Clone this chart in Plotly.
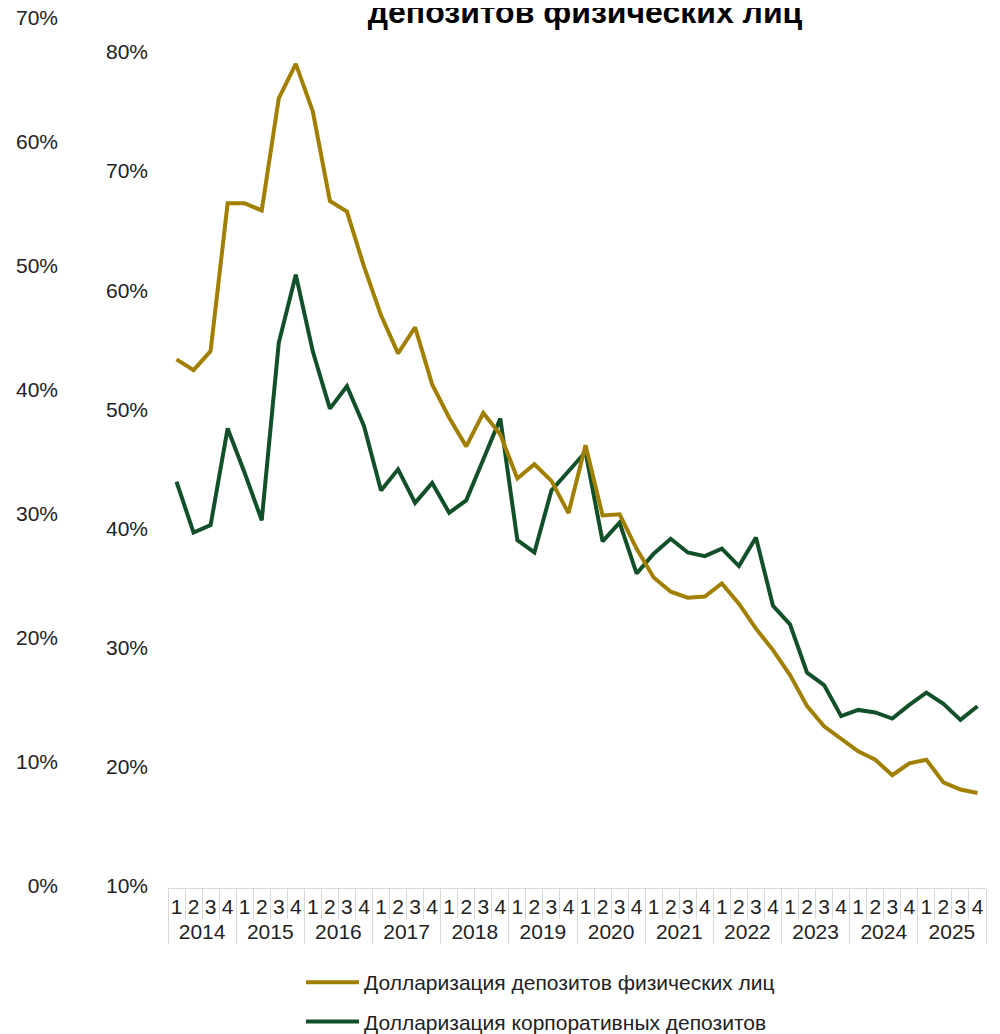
import plotly.graph_objects as go

years = [str(y) for y in range(2014, 2026)]
quarters = ["1", "2", "3", "4"]

# Долларизация депозитов физических лиц (шкала 10–80%)
household = [
    54.2, 53.3, 54.9, 67.3, 67.3, 66.7, 76.1, 79.0,
    75.0, 67.5, 66.6, 62.0, 57.9, 54.7, 56.9, 52.1,
    49.3, 46.9, 49.7, 47.9, 44.2, 45.4, 44.0, 41.3,
    47.0, 41.1, 41.2, 38.3, 35.9, 34.7, 34.2, 34.3,
    35.4, 33.7, 31.6, 29.8, 27.7, 25.1, 23.4, 22.4,
    21.3, 20.6, 19.3, 20.3, 20.6, 18.7, 18.1, 17.8,
]

# Долларизация корпоративных депозитов (внешняя шкала 0–70%)
corporate = [
    32.6, 28.5, 29.1, 36.9, 33.3, 29.5, 43.8, 49.3,
    43.1, 38.5, 40.3, 37.1, 31.9, 33.6, 30.9, 32.5,
    30.1, 31.1, 34.4, 37.7, 27.9, 26.9, 31.9, 33.4,
    35.0, 27.8, 29.3, 25.2, 26.8, 28.0, 26.9, 26.6,
    27.2, 25.8, 28.1, 22.6, 21.1, 17.2, 16.2, 13.7,
    14.2, 14.0, 13.5, 14.6, 15.6, 14.7, 13.4, 14.5,
]

outer_ticks = list(range(0, 80, 10))
inner_ticks = list(range(10, 90, 10))

x_years = [y for y in years for q in quarters]
x_quarters = [q for y in years for q in quarters]

GOLD = "#A17F00"
GREEN = "#12502A"
FONT = "Liberation Sans, Arial, sans-serif"
TXT = "#222222"

# layout in figure pixels (the page body adds an 8px offset)
W, H = 1000, 1034
pad_top = 2
top = 10 - pad_top
zero_y = 878
shift = 2  # category axis line sits just below the zero line
bottom = H - (zero_y + shift)
plot_h = H - top - bottom
right = 22
paper_w = W - right

outer_px = 868 / 70  # px per 1% on the outer 0-70% scale
inner_px = 834 / 70  # px per 1% on the inner 10-80% scale

fig = go.Figure()

fig.add_trace(
    go.Scatter(
        x=[x_years, x_quarters],
        y=household,
        mode="lines",
        name="Долларизация депозитов физических лиц",
        line=dict(color=GOLD, width=4),
        yaxis="y2",
        legendgroup="a",
    )
)

fig.add_trace(
    go.Scatter(
        x=[x_years, x_quarters],
        y=corporate,
        mode="lines",
        name="Долларизация корпоративных депозитов",
        line=dict(color=GREEN, width=4),
        yaxis="y",
        legendgroup="b",
    )
)

fig.update_layout(
    width=W,
    height=H,
    paper_bgcolor="white",
    plot_bgcolor="rgba(0,0,0,0)",
    font=dict(family=FONT, size=21, color=TXT),
    title=dict(
        text="<b>депозитов физических лиц</b>",
        font=dict(family=FONT, size=32, color="#000000"),
        x=577 / paper_w,
        xanchor="center",
        xref="paper",
        y=1 - 4 / H,
        yref="container",
        yanchor="middle",
    ),
    margin=dict(l=0, r=right, t=top, b=bottom, autoexpand=False),
    showlegend=True,
    legend=dict(
        x=293 / paper_w,
        xanchor="left",
        y=-(954 - zero_y - shift) / plot_h,
        yanchor="top",
        orientation="v",
        itemwidth=53,
        tracegroupgap=9,
        font=dict(family=FONT, size=21, color=TXT),
        bgcolor="rgba(0,0,0,0)",
    ),
    xaxis=dict(
        type="multicategory",
        domain=[160 / paper_w, 1],
        range=[-0.5, 47.5],
        tickmode="linear",
        dtick=1,
        tickangle=0,
        automargin=False,
        showline=True,
        linecolor="#d9d9d9",
        linewidth=1,
        ticks="outside",
        tickson="boundaries",
        ticklen=30,
        tickcolor="#d9d9d9",
        showdividers=True,
        dividercolor="#d9d9d9",
        dividerwidth=1,
        showgrid=False,
        zeroline=False,
        tickfont=dict(size=21, color=TXT),
    ),
    yaxis=dict(
        range=[-shift / outer_px, 70 + pad_top / outer_px],
        tickmode="array",
        tickvals=outer_ticks,
        ticktext=[f"{v}%" for v in outer_ticks],
        anchor="free",
        position=50 / paper_w,
        automargin=False,
        ticklabeloverflow="allow",
        showgrid=False,
        zeroline=False,
        showline=False,
        ticks="",
        tickfont=dict(size=21, color=TXT),
    ),
    yaxis2=dict(
        range=[10 - shift / inner_px, 10 + (868 + pad_top) / inner_px],
        tickmode="array",
        tickvals=inner_ticks,
        ticktext=[f"{v}%" for v in inner_ticks],
        overlaying="y",
        side="left",
        anchor="free",
        position=140 / paper_w,
        automargin=False,
        ticklabeloverflow="allow",
        showgrid=False,
        zeroline=False,
        showline=False,
        ticks="",
        tickfont=dict(size=21, color=TXT),
    ),
)

fig.write_html("out.html")
